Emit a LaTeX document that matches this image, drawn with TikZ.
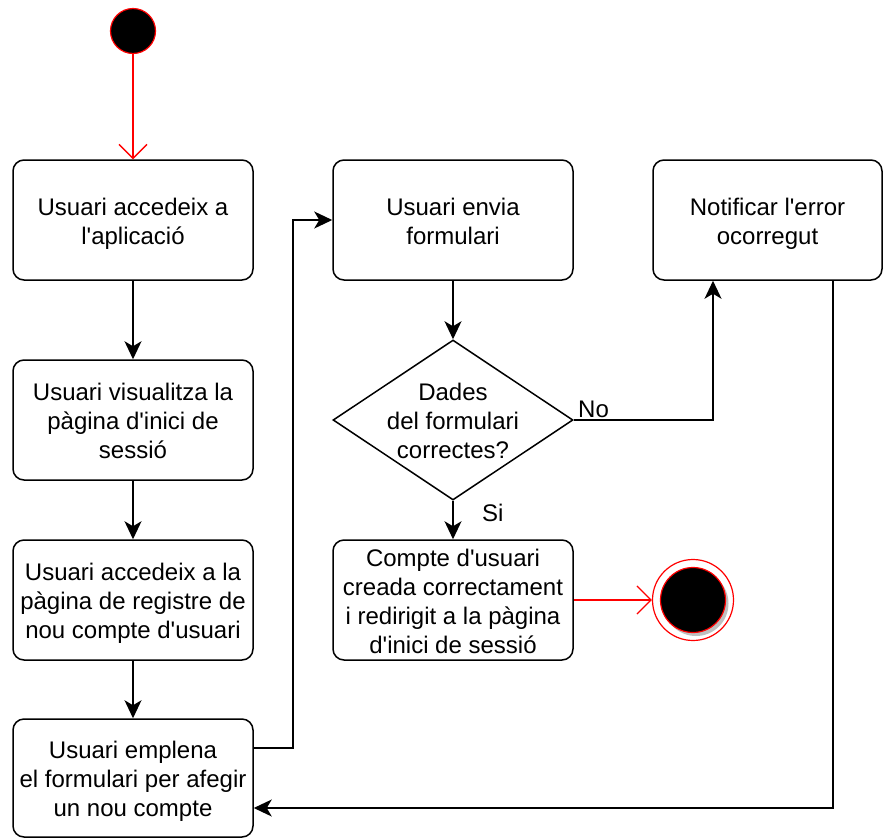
\documentclass[tikz,border=0pt]{standalone}
\usepackage{fontspec}
\setmainfont{Liberation Sans}
\usetikzlibrary{arrows.meta,shapes.geometric}
% centred multi-line text, lowered slightly inside its box
\newcommand\boxlines[1]{\raisebox{-4pt}[\height][\depth]{\begin{tabular}{@{}c@{}}#1\end{tabular}}}
\newcommand\ap{\textquotesingle}
\begin{document}
\begin{tikzpicture}[x=1pt,y=-1pt,
  every node/.style={font=\fontsize{24}{29}\selectfont},
  stepbox/.style={draw, line width=1.5pt, rounded corners=11pt, align=center,
    minimum width=240pt, minimum height=120pt, inner sep=0pt},
  flow/.style={line width=1.5pt, -{Stealth[length=18pt,width=17pt,inset=5pt]}},
  redflow/.style={draw=red, line width=1.3pt, -{Straight Barb[length=14pt,width=28pt,line width=1.3pt]}},
  lbl/.style={inner sep=0pt}]
\useasboundingbox (0,0) rectangle (883,838);

% start
\node[circle, draw=red, fill=black, line width=1.2pt, minimum size=45pt, inner sep=0pt] (start) at (133,31) {};

% left column
\node[stepbox] (b1) at (133,220) {\boxlines{Usuari accedeix a\\l\ap aplicació}};
\node[stepbox] (b2) at (133,420) {\boxlines{Usuari visualitza la\\pàgina d\ap inici de\\sessió}};
\node[stepbox] (b3) at (133,600) {\boxlines{Usuari accedeix a la\\pàgina de registre de\\nou compte d\ap usuari}};
\node[stepbox, minimum height=118pt] (b4) at (133,778) {\boxlines{Usuari emplena\\el formulari per afegir\\un nou compte}};

% middle column
\node[stepbox] (b5) at (453,220) {\boxlines{Usuari envia\\formulari}};
\node[diamond, draw, line width=1.5pt, minimum width=240pt, minimum height=160pt, inner sep=0pt] (dec) at (453,420) {};
\node[inner sep=0pt] (dectext) at (453,420) {\boxlines{Dades\\del formulari\\correctes?}};
\node[stepbox] (b7) at (453,600) {\boxlines{Compte d\ap usuari\\creada correctament\\i redirigit a la pàgina\\d\ap inici de sessió}};

% right column
\node[stepbox, minimum width=229pt] (b6) at (767.5,220) {\boxlines{Notificar l\ap error\\ocorregut}};

% end
\node[circle, draw=red, fill=white, line width=1.2pt, minimum size=81pt, inner sep=0pt] (endo) at (693,600) {};
\fill[black!25] (696,603.5) circle (32.5pt);
\node[circle, draw=red, fill=black, line width=1.2pt, minimum size=65pt, inner sep=0pt] (endi) at (693,600) {};

% connectors
\draw[redflow] (start) -- (b1);
\draw[flow] (b1) -- (b2);
\draw[flow] (b2) -- (b3);
\draw[flow] (b3) -- (b4);

\coordinate (j1) at (293,748);
\draw[flow] (b4.east |- j1) -- (j1) |- (b5.west);
\draw[flow] (b5) -- (dec);

\coordinate (j2) at (713,420);
\draw[flow] (dec.east) -- (j2) -- (j2 |- b6.south);
\node[lbl, anchor=south west] (no) at (578,418) {No};

\draw[flow] (dec.south) -- (b7.north);
\node[lbl, anchor=south west] (si) at (482,522) {Si};

\draw[redflow] (b7.east) -- (endo.west);

\coordinate (j3) at (833,808);
\draw[flow] (j3 |- b6.south) -- (j3) -- (j3 -| b4.east);
\end{tikzpicture}
\end{document}
